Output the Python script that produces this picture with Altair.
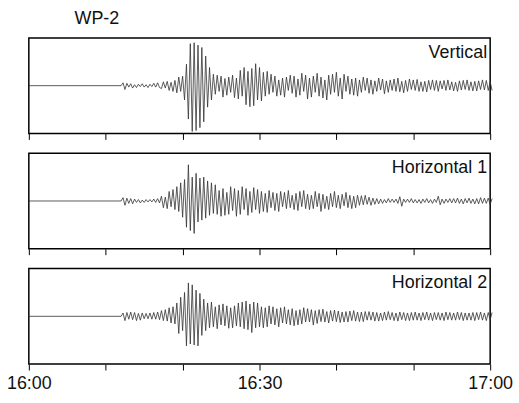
import altair as alt
import pandas as pd

# Three-component seismogram recorded at station WP-2, 16:00-17:00.
STATION = "WP-2"
COMPONENTS = ["Vertical", "Horizontal 1", "Horizontal 2"]
ONSET_MINUTE = 12                        # ground is quiet before 16:12
SAMPLES_PER_MINUTE = 4                   # one sample every 15 s after onset
TICK_MINUTES = [0, 10, 20, 30, 40, 50, 60]
TICK_LABELS = {0: "16:00", 30: "16:30", 60: "17:00"}

# Ground motion after onset, in percent of the panel half-range.
VERTICAL = [
    0,
    6, -8, 5, -3, 4, -5, 2, -4, 3, -2, 4, -3, 2, -4, 3, -2,
    5, -3, 6, -4, -6, 8, -5, 9, -10, 7, -12, 11, -15, 18, -12, 20,
    -30, 45, -70, 88, -96, 90, -94, 85, -88, 80, -76, 62, -45, 38, -30, 24,
    -18, 22, -12, 20, -24, 15, -20, 18, -14, 22, -25, 16, -28, 32, -22, 38,
    -40, 30, -44, 36, -42, 46, -30, 38, -32, 28, -22, 30, -18, 24, -14, 20,
    -22, 12, -20, 16, -24, 18, -10, 22, -16, 20, -24, 14, -20, 26, -12, 22,
    -28, 16, -24, 20, -14, 26, -22, 18, -26, 12, -30, 22, -18, 24, -14, 28,
    -22, 16, -28, 24, -12, 20, -18, 14, -20, 16, -22, 12, -14, 18, -10, 16,
    -16, 12, -18, 10, -12, 16, -9, 14, -17, 10, -14, 12, -10, 14, -12, 16,
    -13, 9, -15, 11, -12, 14, -8, 12, -10, 13, -12, 8, -12, 9, -13, 11,
    -8, 12, -10, 11, -12, 10, -7, 11, -10, 12, -9, 8, -11, 7, -12, 10,
    -9, 11, -8, 12, -10, 8, -11, 9, -11, 10, -8, 12, -9, 11, -10, 8,
    -10,
]

HORIZONTAL_1 = [
    0,
    7, -9, 6, -5, 5, -6, 4, -3, 3, -4, 2, -3, 3, -2, 3, -2,
    4, -3, 5, -4, 10, -14, 8, -16, 20, -12, 24, -18, 30, -22, 38, -34,
    45, -55, 76, -62, 50, -68, 58, -44, 48, -40, 50, -36, 42, -30, 38, -26,
    34, -28, 22, -32, 26, -30, 18, -28, 30, -20, 26, -32, 22, -28, 30, -18,
    26, -30, 20, -24, 28, -18, 24, -26, 20, -22, 16, -24, 22, -14, 18, -20,
    16, -22, 20, -12, 18, -16, 22, -14, 12, -18, 16, -20, 20, -12, 22, -16,
    14, -18, 12, -16, 20, -12, 16, -22, 14, -16, 10, -18, 16, -12, 20, -14,
    12, -16, 14, -10, 18, -14, 12, -16, 10, -14, 12, -9, 11, -8, 12, -7,
    8, -9, 6, -7, 5, -6, 4, -5, 3, -4, 5, -3, 4, -3, 4, -5,
    9, -11, 4, -3, 4, -3, 5, -4, 3, -4, 3, -5, 4, -3, 5, -4,
    3, -5, 4, -3, 10, -8, 4, -5, 4, -3, 5, -4, 5, -4, 6, -5,
    4, -6, 5, -4, 6, -5, 4, -6, 5, -6, 7, -5, 6, -5, 6, -7,
    5,
]

HORIZONTAL_2 = [
    0,
    7, -9, 8, -6, 9, -7, 8, -9, 6, -8, 7, -5, 6, -5, 7, -6,
    8, -6, 9, -7, 12, -9, 14, -10, 18, -14, 20, -16, 28, -36, 40, -30,
    50, -62, 70, -58, 66, -60, 55, -62, 48, -40, 36, -30, 28, -24, 30, -22,
    20, -26, 24, -18, 26, -20, 22, -25, 18, -24, 22, -20, 28, -22, 30, -26,
    32, -28, 26, -34, 30, -24, 28, -22, 20, -24, 18, -22, 22, -16, 20, -18,
    16, -22, 18, -14, 20, -16, 14, -18, 16, -20, 12, -18, 14, -16, 18, -12,
    16, -12, 14, -18, 12, -15, 14, -11, 15, -12, 10, -14, 12, -10, 13, -11,
    11, -13, 9, -12, 10, -12, 11, -9, 12, -10, 9, -11, 9, -11, 10, -8,
    10, -8, 9, -10, 8, -10, 7, -9, 9, -8, 10, -7, 8, -9, 7, -10,
    9, -7, 8, -9, 7, -9, 8, -8, 9, -8, 7, -9, 8, -7, 9, -8,
    7, -9, 8, -7, 8, -8, 7, -9, 9, -7, 8, -8, 7, -8, 9, -7,
    8, -9, 7, -8, 7, -8, 8, -9, 8, -7, 9, -8, 7, -9, 8, -7,
    8,
]

TRACES = [VERTICAL, HORIZONTAL_1, HORIZONTAL_2]

FONT = "Liberation Sans"
PANEL_W, PANEL_H = 464, 96

label_expr = " : ".join(
    f"datum.value == {m} ? '{txt}'" for m, txt in TICK_LABELS.items()
) + " : ''"


def panel(name, values, show_labels, title=None):
    # quiet baseline from 16:00, then the sampled record from onset on
    minutes = [0] + [ONSET_MINUTE + i / SAMPLES_PER_MINUTE for i in range(len(values))]
    df = pd.DataFrame({"minute": minutes, "amp": [0] + values})
    x = alt.X(
        "minute:Q",
        scale=alt.Scale(domain=[0, 60], nice=False, zero=False),
        axis=alt.Axis(
            values=TICK_MINUTES, title=None, grid=False, domain=False,
            ticks=True, tickSize=6, tickColor="black", tickWidth=1,
            labels=show_labels, labelExpr=label_expr, labelFontSize=18,
            labelFont=FONT, labelColor="#111", labelPadding=5,
            labelFlush=False, labelOverlap=False,
        ),
    )
    y = alt.Y("amp:Q", scale=alt.Scale(domain=[-100, 100], nice=False), axis=None)
    trace = alt.Chart(df).mark_line(
        color="#333333", strokeWidth=0.8
    ).encode(x=x, y=y)
    tag = alt.Chart(pd.DataFrame({"name": [name]})).mark_text(
        align="right", baseline="alphabetic", fontSize=18, font=FONT, color="#111"
    ).encode(text="name:N", x=alt.value(PANEL_W - 3), y=alt.value(20))
    layers = [trace, tag]
    if title:
        head = alt.Chart(pd.DataFrame({"name": [title]})).mark_text(
            align="left", baseline="alphabetic", fontSize=18, font=FONT, color="#111"
        ).encode(text="name:N", x=alt.value(46), y=alt.value(-14))
        layers.append(head)
    return alt.layer(*layers).properties(width=PANEL_W, height=PANEL_H)


panels = [
    panel(COMPONENTS[i], TRACES[i], i == 2, STATION if i == 0 else None)
    for i in range(3)
]

chart = alt.vconcat(*panels, spacing=20, bounds="flush").properties(
    padding={"left": 5, "top": 8, "right": 5, "bottom": 5},
    background="white",
).configure_view(
    stroke="black", strokeWidth=1.5
)

chart.save("out.html", embed_options={"renderer": "svg", "actions": False})
